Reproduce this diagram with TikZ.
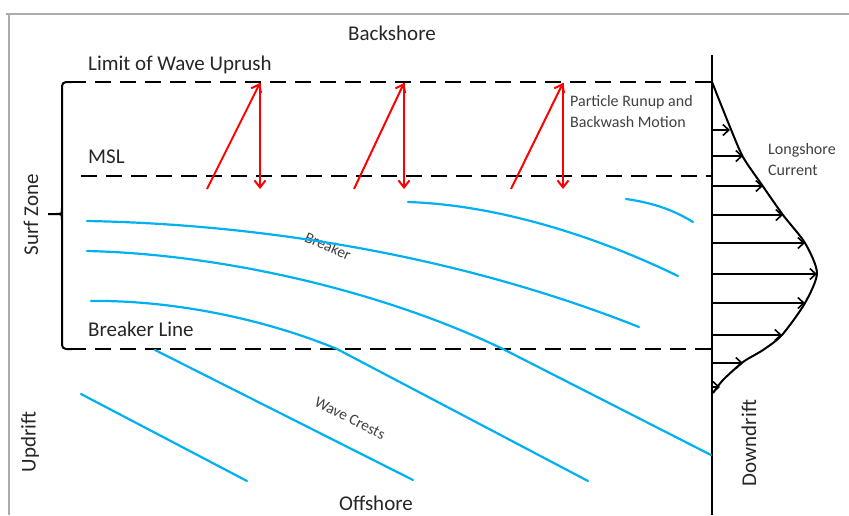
\documentclass[tikz,border=0pt]{standalone}
\usepackage{fontspec}
\setmainfont{Carlito}
\usetikzlibrary{arrows.meta}
\definecolor{wave}{HTML}{00B0F0}
\definecolor{labelgray}{HTML}{262626}
\definecolor{notegray}{HTML}{404040}
\begin{document}
\begin{tikzpicture}[x=1pt,y=-1pt,
  frame/.style={draw=gray!65,line width=1.5pt},
  level/.style={draw=black,line width=2.4pt,dash pattern=on 16pt off 9pt},
  bracket/.style={draw=black,line width=2pt,rounded corners=4pt},
  shoreline/.style={draw=black,line width=2pt},
  crest/.style={draw=wave,line width=2.2pt,line cap=round},
  swash/.style={draw=red,line width=2pt,-{Straight Barb[length=7pt,width=11pt]}},
  drift/.style={draw=black,line width=1.6pt,-{Straight Barb[length=6pt,width=11pt]}},
  profile/.style={draw=black,line width=2pt,line join=round},
  biglabel/.style={font=\fontsize{21}{25}\selectfont,text=labelgray,inner sep=0pt},
  smalllabel/.style={font=\fontsize{16}{21}\selectfont,text=notegray,inner sep=0pt,align=left,anchor=north west},
  crestlabel/.style={font=\fontsize{15.5}{18}\selectfont,text=notegray,inner sep=0pt}]
\useasboundingbox (0,0) rectangle (849,515);

% page frame
\coordinate (frameTL) at (9,14);
\coordinate (frameTR) at (849,14);
\coordinate (frameBL) at (9,515);
\draw[frame] (6,14) -- (frameTR);
\draw[frame] (frameTL) -- (frameBL);

% shoreline reference axis
\coordinate (shoreTop) at (712,55);
\coordinate (shoreBot) at (712,515);
\draw[shoreline] (shoreTop) -- (shoreBot);

% levels
\coordinate (uprushL) at (70,82);   \coordinate (uprushR) at (712,82);
\coordinate (mslL) at (81,176);     \coordinate (mslR) at (712,176);
\coordinate (breakL) at (70,349);   \coordinate (breakR) at (712,349);
\draw[level] (uprushL) -- (uprushR);
\draw[level] (mslL) -- (mslR);
\draw[level] (breakL) -- (breakR);

% surf zone bracket
\draw[bracket] (72,82) -- (62,82) -- (62,349) -- (72,349);
\coordinate (braceTip) at (48,214);
\draw[line width=2pt] (62,208) .. controls (62,214) .. (56,214) -- (braceTip);
\draw[line width=2pt] (62,220) .. controls (62,214) .. (56,214);

% labels
\node[biglabel] (backshore) at (392,33) {Backshore};
\node[biglabel,anchor=west] (uprush) at (88,65) {Limit of Wave Uprush};
\node[biglabel,anchor=west] (msl) at (88,157) {MSL};
\node[biglabel,anchor=west] (breakerline) at (88,329) {Breaker Line};
\node[biglabel,rotate=90] (surfzone) at (31,215) {Surf Zone};
\node[biglabel,rotate=90] (updrift) at (30,442) {Updrift};
\node[biglabel,rotate=90] (downdrift) at (749,443) {Downdrift};
\node[biglabel] (offshore) at (376,503) {Offshore};
\node[smalllabel] (particle) at (570,95) {Particle Runup and\\Backwash Motion};
\node[smalllabel] (longshore) at (768,143) {Longshore\\Current};
\node[crestlabel,rotate=-24] (breaker) at (328,246) {Breaker};
\node[crestlabel,rotate=-27] (crests) at (350,418) {Wave Crests};

% wave crests inside the surf zone, bending as they break
\coordinate (c1a) at (408,202); \coordinate (c1b) at (678,276);
\coordinate (c2a) at (626,199); \coordinate (c2b) at (693,222);
\coordinate (c3a) at (87,221);  \coordinate (c3b) at (639,327);
\coordinate (c4a) at (87,251);  \coordinate (c4m) at (503,349); \coordinate (c4b) at (711,455);
\coordinate (c5a) at (91,301);  \coordinate (c5m) at (337,349); \coordinate (c5b) at (588,481);
\draw[crest] (c1a) .. controls (500,205) and (600,238) .. (c1b);
\draw[crest] (c2a) .. controls (655,203) and (675,211) .. (c2b);
\draw[crest] (c3a) .. controls (250,224) and (450,252) .. (c3b);
\draw[crest] (c4a) .. controls (220,254) and (380,290) .. (c4m) -- (c4b);
\draw[crest] (c5a) .. controls (170,300) and (262,318) .. (c5m) -- (c5b);
% offshore wave crests
\coordinate (crestA1) at (155,350); \coordinate (crestA2) at (413,480);
\coordinate (crestB1) at (81,394);  \coordinate (crestB2) at (247,481);
\draw[crest] (crestA1) -- (crestA2);
\draw[crest] (crestB1) -- (crestB2);

% runup and backwash
\foreach \s/\t [count=\i] in {207/260, 354/404, 511/563} {
  \coordinate (run\i) at (\s,189);
  \coordinate (top\i) at (\t,83);
  \coordinate (back\i) at (\t,189);
  \draw[swash] (run\i) -- (top\i);
  \draw[swash] (top\i) -- (back\i);
}

% longshore current profile
\draw[profile] plot[smooth,tension=0.45] coordinates {(712,82) (730,127) (743,157) (762,185) (783,215) (805,243) (817,273) (805,303) (782,335) (763,350) (743,362) (723,380) (713,393)};
\foreach \y/\x [count=\i] in {130/730, 156/743, 186/763, 215/783, 243/805, 274/817, 303/805, 335/782, 363/743, 387/720} {
  \coordinate (base\i) at (712,\y);
  \coordinate (tip\i) at (\x,\y);
  \draw[drift] (base\i) -- (tip\i);
}
\end{tikzpicture}
\end{document}
